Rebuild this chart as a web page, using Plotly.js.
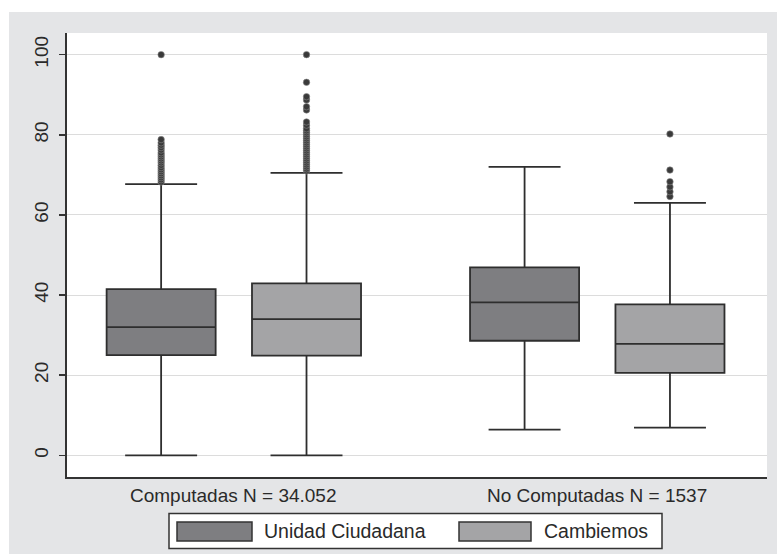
<!DOCTYPE html>
<html><head><meta charset="utf-8">
<script src="https://cdn.plot.ly/plotly-3.0.1.min.js"></script>
<style>html,body{margin:0;padding:0;background:#fff}</style>
</head><body><div id="chart" style="width:777px;height:554px"></div>
<script>
// ---- data ----
var categories = ['Computadas N = 34.052', 'No Computadas N = 1537'];
var seriesNames = ['Unidad Ciudadana', 'Cambiemos'];
var seriesColors = ['#7e7e81', '#a4a4a6'];

var ucQ1 = [25.0, 28.6];
var ucMedian = [32.0, 38.2];
var ucQ3 = [41.5, 46.9];
var ucLower = [0, 6.4];
var ucUpper = [67.7, 72.0];
var ucOutliers = [
  [68.2, 68.8, 69.3, 69.8, 70.3, 70.8, 71.3, 71.8, 72.4, 73.0, 73.5, 74.0, 74.5, 75.0, 75.5, 76.2, 76.8, 77.4, 78.0, 78.8, 100],
  []
];

var cbQ1 = [24.9, 20.6];
var cbMedian = [34.0, 27.8];
var cbQ3 = [42.9, 37.7];
var cbLower = [0, 6.9];
var cbUpper = [70.5, 63.0];
var cbOutliers = [
  [71.0, 71.5, 72.0, 72.5, 73.0, 73.5, 74.0, 74.5, 75.0, 75.5, 76.0, 76.5, 77.0, 77.5, 78.0, 78.5, 79.0, 79.5, 80.0, 80.5, 81.0, 81.5, 82.4, 83.2, 86.2, 87.0, 88.7, 89.5, 93.1, 100],
  [64.6, 65.8, 67.0, 68.3, 71.2, 80.2]
];

var yTicks = [0, 20, 40, 60, 80, 100];

// ---- layout helpers (pixel -> paper) ----
var W = 777, H = 554, ML = 67, MR = 10, MT = 33, MB = 77;
var PW = W - ML - MR, PH = H - MT - MB;
function px(x) { return (x - ML) / PW; }
function py(y) { return (H - MB - y) / PH; }

function boxTrace(name, color, q1, med, q3, lo, hi, outs) {
  return {
    type: 'box', name: name, x: categories, y: outs,
    q1: q1, median: med, q3: q3, lowerfence: lo, upperfence: hi,
    boxpoints: 'outliers', fillcolor: color,
    line: {color: '#2e2e2e', width: 1.8},
    marker: {color: '#3a3a3a', size: 6.5, line: {color: '#8a8a8a', width: 0.6}},
    whiskerwidth: 0.66, showlegend: false, hoverinfo: 'skip'
  };
}

var traces = [
  boxTrace(seriesNames[0], seriesColors[0], ucQ1, ucMedian, ucQ3, ucLower, ucUpper, ucOutliers),
  boxTrace(seriesNames[1], seriesColors[1], cbQ1, cbMedian, cbQ3, cbLower, cbUpper, cbOutliers)
];

var shapes = [
  {type: 'rect', xref: 'paper', yref: 'paper', x0: px(0), x1: px(W), y0: py(12), y1: py(0), fillcolor: '#ffffff', line: {width: 0}, layer: 'below'},
  {type: 'rect', xref: 'paper', yref: 'paper', x0: px(0), x1: px(9), y0: py(H), y1: py(0), fillcolor: '#ffffff', line: {width: 0}, layer: 'below'},
  {type: 'rect', xref: 'paper', yref: 'paper', x0: px(169), x1: px(662), y0: py(548.5), y1: py(513.5), fillcolor: '#ffffff', line: {color: '#333333', width: 1.5}, layer: 'above'},
  {type: 'rect', xref: 'paper', yref: 'paper', x0: px(177), x1: px(252), y0: py(541), y1: py(522), fillcolor: seriesColors[0], line: {color: '#333333', width: 1.5}, layer: 'above'},
  {type: 'rect', xref: 'paper', yref: 'paper', x0: px(459), x1: px(531), y0: py(541), y1: py(522), fillcolor: seriesColors[1], line: {color: '#333333', width: 1.5}, layer: 'above'}
];

var annotations = [
  {xref: 'paper', yref: 'paper', x: px(262), y: py(531), xanchor: 'left', yanchor: 'middle', text: seriesNames[0], showarrow: false, font: {size: 19.5, color: '#2a2a2a'}},
  {xref: 'paper', yref: 'paper', x: px(542), y: py(531), xanchor: 'left', yanchor: 'middle', text: seriesNames[1], showarrow: false, font: {size: 19.5, color: '#2a2a2a'}}
];
categories.forEach(function (c) {
  annotations.push({xref: 'x', yref: 'paper', x: c, y: py(496), xanchor: 'center', yanchor: 'middle',
    text: c, showarrow: false, font: {size: 19, color: '#2a2a2a'}});
});

var layout = {
  width: W, height: H,
  margin: {l: ML, r: MR, t: MT, b: MB, pad: 0},
  paper_bgcolor: '#e4e5e7', plot_bgcolor: '#ffffff',
  font: {family: 'Liberation Sans, Arial, sans-serif', size: 14, color: '#2a2a2a'},
  boxmode: 'group', boxgap: 0.2, boxgroupgap: 0.25,
  showlegend: false,
  xaxis: {
    type: 'category', range: [-0.459, 1.467], showline: true, linecolor: '#333333', linewidth: 2,
    showgrid: false, zeroline: false, ticks: '', showticklabels: false, fixedrange: true
  },
  yaxis: {
    range: [-5.4, 105.4], tickvals: yTicks, ticktext: yTicks.map(String), ticks: 'outside', ticklen: 6, tickwidth: 1.5,
    tickcolor: '#333333', tickangle: -90, showline: true, linecolor: '#333333', linewidth: 2,
    gridcolor: '#dcdcdc', gridwidth: 1, zeroline: false, ticklabelstandoff: 3,
    tickfont: {size: 19, color: '#2a2a2a'}, fixedrange: true
  },
  shapes: shapes, annotations: annotations
};

Plotly.newPlot('chart', traces, layout, {displayModeBar: false, staticPlot: true});
</script></body></html>
